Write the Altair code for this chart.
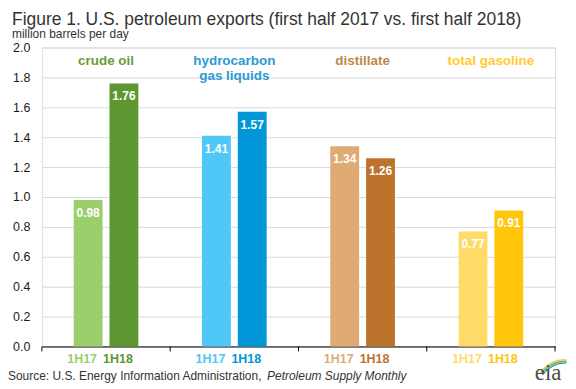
import altair as alt
import pandas as pd

# ---- data ----
categories = ["crude oil", "hydrocarbon gas liquids", "distillate", "total gasoline"]
category_lines = ["crude oil", "hydrocarbon\ngas liquids", "distillate", "total gasoline"]
periods = ["1H17", "1H18"]
values_1h17 = [0.98, 1.41, 1.34, 0.77]
values_1h18 = [1.76, 1.57, 1.26, 0.91]
y_ticks = [0.0, 0.2, 0.4, 0.6, 0.8, 1.0, 1.2, 1.4, 1.6, 1.8, 2.0]

# ---- styles ----
light_colors = ["#9BCF6E", "#4FC8F7", "#E0AA75", "#FFDC6A"]
dark_colors = ["#5D9732", "#0096D7", "#BC732C", "#FFC60B"]
label_colors = ["#6C9C3E", "#2C9AD4", "#BF874C", "#FFCB2F"]
FONT = "Liberation Sans"
TEXT = "#333333"

rows = []
for i, c in enumerate(categories):
    rows.append({"category": c, "period": "1H17", "value": values_1h17[i], "key": f"{c}|1H17"})
    rows.append({"category": c, "period": "1H18", "value": values_1h18[i], "key": f"{c}|1H18"})
df = pd.DataFrame(rows)
keys = [f"{c}|{p}" for c in categories for p in periods]
key_colors = []
for i in range(len(categories)):
    key_colors += [light_colors[i], dark_colors[i]]

cat_df = pd.DataFrame({"category": categories, "label": category_lines})

x_enc = alt.X("category:N", sort=categories,
              scale=alt.Scale(paddingInner=0, paddingOuter=0),
              axis=alt.Axis(title=None, labels=False, ticks=False, domain=True,
                            domainColor="#000000", domainWidth=1, grid=False))
xo_enc = alt.XOffset("period:N", sort=periods,
                     scale=alt.Scale(paddingInner=0.194, paddingOuter=0.889))
y_enc = alt.Y("value:Q", scale=alt.Scale(domain=[0, 2], nice=False),
              axis=alt.Axis(title=None, values=y_ticks, format=".1f", domain=False, ticks=False,
                            grid=True, gridColor="#D9D9D9", gridWidth=1,
                            labelFont=FONT, labelFontSize=12.5, labelColor="#1a1a1a",
                            labelPadding=12, labelOverlap=False))
color_enc = alt.Color("key:N", scale=alt.Scale(domain=keys, range=key_colors), legend=None)

base = alt.Chart(df)

bars = base.mark_bar().encode(x=x_enc, xOffset=xo_enc, y=y_enc, color=color_enc)

value_labels = base.mark_text(color="white", fontWeight="bold", font=FONT, fontSize=12,
                              baseline="middle", dy=13).encode(
    x=x_enc, xOffset=xo_enc, y=y_enc,
    text=alt.Text("value:Q", format=".2f"))

period_labels = base.mark_text(fontWeight="bold", font=FONT, fontSize=12.5,
                               baseline="middle", dx=-6).encode(
    x=x_enc, xOffset=xo_enc, y=alt.value(313),
    text="period:N", color=color_enc)

cat_labels = alt.Chart(cat_df).mark_text(fontWeight="bold", font=FONT, fontSize=13.5,
                                         baseline="middle", lineBreak="\n", lineHeight=15).encode(
    x=x_enc, y=alt.value(14),
    text="label:N",
    color=alt.Color("category:N", scale=alt.Scale(domain=categories, range=label_colors), legend=None))

tick_start = alt.Chart(cat_df).mark_rule(color="#000000", strokeWidth=1).encode(
    x=alt.X("category:N", sort=categories, bandPosition=0), y=alt.value(300), y2=alt.value(305))
tick_end = alt.Chart(cat_df.tail(1)).mark_rule(color="#000000", strokeWidth=1).encode(
    x=alt.X("category:N", sort=categories, bandPosition=1), y=alt.value(300), y2=alt.value(305))

source1 = alt.Chart(pd.DataFrame({"t": ["Source: U.S. Energy Information Administration, "]})).mark_text(
    font=FONT, fontSize=12, color=TEXT, align="left", baseline="middle").encode(
    x=alt.value(-34), y=alt.value(330), text="t:N")
source2 = alt.Chart(pd.DataFrame({"t": ["Petroleum Supply Monthly"]})).mark_text(
    font=FONT, fontSize=12, fontStyle="italic", color=TEXT, align="left", baseline="middle").encode(
    x=alt.value(226), y=alt.value(330), text="t:N")

logo_text = alt.Chart(pd.DataFrame({"t": ["eia"]})).mark_text(
    font="Liberation Serif", fontSize=23, color="#4D4D4D", align="center", baseline="alphabetic").encode(
    x=alt.value(508), y=alt.value(334), text="t:N")
arc_df = pd.DataFrame({"ring": ["a", "b", "c"], "r": [33.5, 31.8, 30.1], "r2": [32.2, 30.5, 28.8]})
logo_arcs = alt.Chart(arc_df).mark_arc(theta=5.35, theta2=6.3).encode(
    x=alt.value(526), y=alt.value(346),
    radius=alt.Radius("r:Q", scale=None),
    radius2=alt.Radius2("r2:Q"),
    color=alt.Color("ring:N", scale=alt.Scale(domain=["a", "b", "c"], range=["#F2C94C", "#6DBE45", "#2A8FD0"]), legend=None))

chart = alt.layer(bars, value_labels, period_labels, cat_labels, tick_start, tick_end,
                  source1, source2, logo_arcs, logo_text).resolve_scale(color="independent").properties(
    width=515, height=300,
    autosize=alt.AutoSizeParams(type="none"),
    padding={"left": 34, "top": 39, "right": 13, "bottom": 40},
    title=alt.TitleParams(
        text="Figure 1. U.S. petroleum exports (first half 2017 vs. first half 2018)",
        subtitle="million barrels  per day",
        anchor="start", dx=4, offset=2,
        font=FONT, fontSize=17.5, fontWeight="normal", color=TEXT,
        subtitleFont=FONT, subtitleFontSize=12, subtitleColor=TEXT, subtitlePadding=0),
).configure_view(stroke=None).configure(background="white")

chart.save("out.html", embed_options={"renderer": "svg", "actions": False})
